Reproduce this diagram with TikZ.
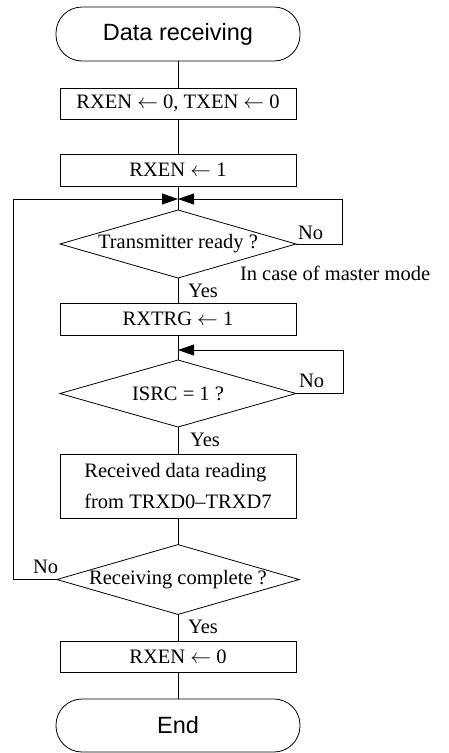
\documentclass[tikz,border=0pt]{standalone}
\usepackage{fontspec}
\setmainfont{Liberation Serif}
\newfontfamily\sansf{Liberation Sans}
\usetikzlibrary{arrows.meta,shapes.geometric}
\newcommand{\la}{\ensuremath{\leftarrow}}
\begin{document}
\begin{tikzpicture}[x=1pt,y=-1pt,
  line width=0.8pt,
  every node/.style={inner sep=0pt,outer sep=0pt},
  txt/.style={font=\fontsize{20.5}{31}\selectfont},
  term/.style={draw,rounded corners=26pt,minimum width=244pt,minimum height=54pt,font=\sansf\fontsize{23.5}{28}\selectfont},
  proc/.style={draw,minimum width=236pt,minimum height=32pt,txt},
  dec/.style={draw,diamond,aspect=3.47,minimum width=236pt,minimum height=68pt,txt},
  lbl/.style={txt,anchor=base west},
  arr/.style={-{Triangle[length=16pt,width=11pt]}}
]
\useasboundingbox (0,0) rectangle (448,753);
\node[term] (start) at (178,34) {Data receiving};
\node[proc,minimum height=31pt] (b1) at (178,103.5) {RXEN \la{} 0, TXEN \la{} 0};
\node[proc] (b2) at (178,170) {RXEN \la{} 1};
\coordinate (j1) at (178,199);
\node[dec] (d1) at (178,244) {Transmitter ready ?};
\node[proc] (b3) at (178,319) {RXTRG \la{} 1};
\coordinate (j2) at (178,350);
\node[dec,minimum height=67pt] (d2) at (178,393.5) {ISRC = 1 ?};
\node[proc,minimum height=64pt,align=left] (b4) at (178,486) {Received data reading\\from TRXD0–TRXD7};
\node[dec,minimum height=67pt] (d3) at (178,579.5) {Receiving complete ?};
\node[proc,minimum height=31pt] (b5) at (178,656.5) {RXEN \la{} 0};
\node[term,minimum height=53pt] (end) at (178,725.5) {End};

\node[lbl] (no1) at (298,239) {No};
\node[lbl] (mm) at (240,280) {In case of master mode};
\node[lbl] (yes1) at (188,297) {Yes};
\node[lbl] (no2) at (299,387) {No};
\node[lbl] (yes2) at (190,446) {Yes};
\node[lbl] (no3) at (33,573) {No};
\node[lbl] (yes3) at (188,633) {Yes};

\coordinate (r1) at (342,199);
\coordinate (r2) at (343,350);
\coordinate (l1) at (13,199);

\draw (start) -- (b1);
\draw (b1) -- (b2);
\draw (b2) -- (d1);
\draw (d1) -- (b3);
\draw (b3) -- (d2);
\draw (d2) -- (b4);
\draw (b4) -- (d3);
\draw (d3) -- (b5);
\draw (b5) -- (end);

\draw[arr] (d1.east) -| (r1) -- (j1);
\draw[arr] (d2.east) -| (r2) -- (j2);
\draw[arr] (d3.west) -| (l1) -- (j1);
\end{tikzpicture}
\end{document}
